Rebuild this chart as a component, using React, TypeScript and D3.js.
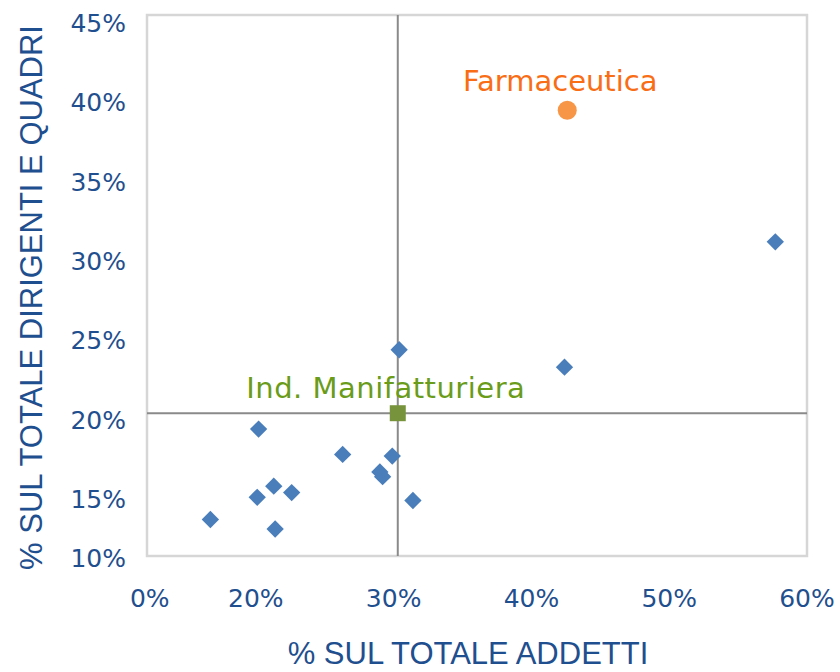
import React, { useEffect, useRef } from 'react';
import * as d3 from 'd3';

// sectors (blue diamonds): % sul totale addetti vs % sul totale dirigenti e quadri
const sectorX = [57.7, 30.4, 42.4, 20.2, 26.3, 29.9, 29.0, 29.2, 21.3, 22.6, 20.1, 31.4, 16.7, 21.4];
const sectorY = [31.2, 24.4, 23.3, 19.4, 17.8, 17.7, 16.7, 16.4, 15.8, 15.4, 15.1, 14.9, 13.7, 13.1];

// highlighted points
const pharmaName = 'Farmaceutica';
const pharmaX = 42.6;
const pharmaY = 39.5;
const manufName = 'Ind. Manifatturiera';
const manufX = 30.3;
const manufY = 20.4;

// axes
const xDomain = [12.1, 60];
const yDomain = [11.4, 45.5];
const xTickValues = [12.3, 20, 30, 40, 50, 60];
const xTickLabels = ['0%', '20%', '30%', '40%', '50%', '60%'];
const yTickValues = [11.25, 15, 20, 25, 30, 35, 40, 45];
const yTickLabels = ['10%', '15%', '20%', '25%', '30%', '35%', '40%', '45%'];
const xTitle = '% SUL TOTALE ADDETTI';
const yTitle = '% SUL TOTALE DIRIGENTI E QUADRI';

const ScatterChart = () => {
  const ref = useRef<SVGSVGElement | null>(null);
  const width = 840;
  const height = 672;
  const plot = { left: 147, right: 807, top: 15, bottom: 556 };

  useEffect(() => {
    if (!ref.current) return;
    const svg = d3.select(ref.current);
    svg.selectAll('*').remove();

    const x = d3.scaleLinear().domain(xDomain).range([plot.left, plot.right]);
    const y = d3.scaleLinear().domain(yDomain).range([plot.bottom, plot.top]);

    const tickFont = '"DejaVu Sans", Verdana, sans-serif';
    const titleFont = '"Liberation Sans", Arial, sans-serif';
    const blueText = '#1f4f8e';

    // plot border
    svg.append('rect')
      .attr('x', plot.left)
      .attr('y', plot.top)
      .attr('width', plot.right - plot.left)
      .attr('height', plot.bottom - plot.top)
      .attr('fill', '#ffffff')
      .attr('stroke', '#d6d6d6')
      .attr('stroke-width', 2.5);

    // quadrant lines through the manufacturing average
    svg.append('line')
      .attr('x1', x(manufX)).attr('x2', x(manufX))
      .attr('y1', plot.top).attr('y2', plot.bottom)
      .attr('stroke', '#8a8a8a')
      .attr('stroke-width', 2);
    svg.append('line')
      .attr('x1', plot.left).attr('x2', plot.right)
      .attr('y1', y(manufY)).attr('y2', y(manufY))
      .attr('stroke', '#8a8a8a')
      .attr('stroke-width', 2);

    // tick labels
    svg.append('g')
      .selectAll('text')
      .data(yTickValues)
      .enter()
      .append('text')
      .attr('x', 126)
      .attr('y', d => y(d))
      .attr('dy', '0.36em')
      .attr('text-anchor', 'end')
      .style('font-family', tickFont)
      .style('font-size', '25px')
      .style('fill', blueText)
      .text((d, i) => yTickLabels[i]);

    svg.append('g')
      .selectAll('text')
      .data(xTickValues)
      .enter()
      .append('text')
      .attr('x', d => x(d))
      .attr('y', 607)
      .attr('text-anchor', 'middle')
      .style('font-family', tickFont)
      .style('font-size', '25px')
      .style('fill', blueText)
      .text((d, i) => xTickLabels[i]);

    // axis titles
    svg.append('text')
      .attr('x', 468)
      .attr('y', 664)
      .attr('text-anchor', 'middle')
      .style('font-family', titleFont)
      .style('font-size', '31px')
      .style('fill', blueText)
      .text(xTitle);

    svg.append('text')
      .attr('transform', `translate(42, ${(plot.top + plot.bottom) / 2 + 12}) rotate(-90)`)
      .attr('text-anchor', 'middle')
      .style('font-family', titleFont)
      .style('font-size', '31px')
      .style('fill', blueText)
      .text(yTitle);

    // sector diamonds
    const diamond = d3.symbol().type(d3.symbolSquare).size(150)();
    svg.append('g')
      .selectAll('path')
      .data(sectorX.map((v, i) => [v, sectorY[i]]))
      .enter()
      .append('path')
      .attr('d', diamond)
      .attr('transform', d => `translate(${x(d[0])}, ${y(d[1])}) rotate(45)`)
      .attr('fill', '#4a7ebb');

    // manufacturing average (green square)
    svg.append('path')
      .attr('d', d3.symbol().type(d3.symbolSquare).size(256)())
      .attr('transform', `translate(${x(manufX)}, ${y(manufY)})`)
      .attr('fill', '#77933c');

    svg.append('text')
      .attr('x', x(manufX) - 12)
      .attr('y', y(manufY) - 15)
      .attr('text-anchor', 'middle')
      .style('font-family', tickFont)
      .style('font-size', '29px')
      .style('letter-spacing', '0.5px')
      .style('fill', '#6a9c1a')
      .text(manufName);

    // pharma (orange circle)
    svg.append('circle')
      .attr('cx', x(pharmaX))
      .attr('cy', y(pharmaY))
      .attr('r', 9.5)
      .attr('fill', '#f79646');

    svg.append('text')
      .attr('x', x(pharmaX) - 7)
      .attr('y', y(pharmaY) - 19)
      .attr('text-anchor', 'middle')
      .style('font-family', tickFont)
      .style('font-size', '29px')
      .style('fill', '#f96d15')
      .text(pharmaName);
  }, []);

  return <svg ref={ref} width={width} height={height} style={{ display: 'block' }} />;
};

export default function App() {
  useEffect(() => {
    document.body.style.margin = '0';
  }, []);
  return <ScatterChart />;
}
